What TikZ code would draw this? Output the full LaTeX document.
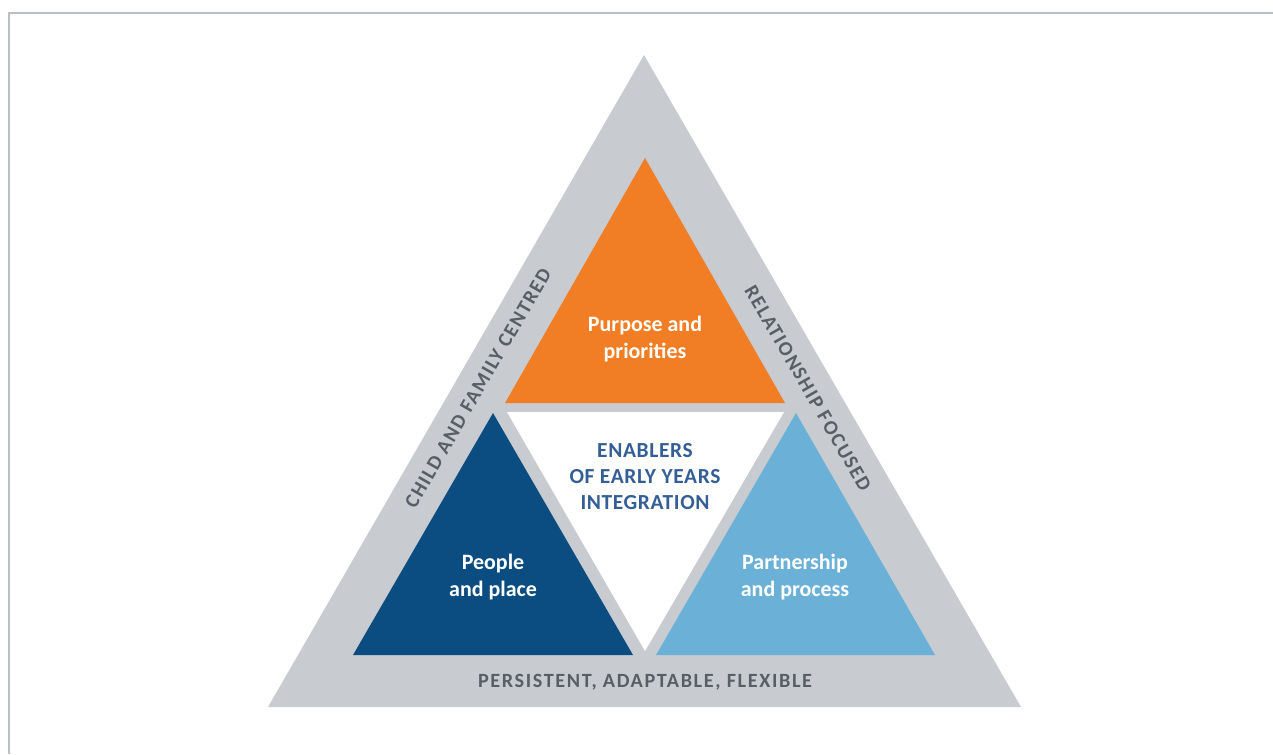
\documentclass[tikz,border=0pt]{standalone}
\usepackage{fontspec}
\setmainfont{Carlito}
\newfontfamily\sidefont[LetterSpace=8]{Carlito}
\newfontfamily\midfont[LetterSpace=3]{Carlito}
\begin{document}
\begin{tikzpicture}[x=0.02cm,y=-0.02cm,
  band/.style={fill=bandgray,draw=none},
  whitelbl/.style={text=white,font=\bfseries\fontsize{12.5}{15.5}\selectfont,align=center},
  sidelbl/.style={text=sidegray,font=\sidefont\bfseries\fontsize{11.5}{13}\selectfont},
  centerlbl/.style={text=centerblue,font=\midfont\bfseries\fontsize{12.2}{14.8}\selectfont,align=center}]
\definecolor{bandgray}{HTML}{C8CCD1}
\definecolor{framegray}{HTML}{B9BFC5}
\definecolor{orangec}{HTML}{F17D24}
\definecolor{darkblue}{HTML}{0B4C81}
\definecolor{lightblue}{HTML}{6BB1D7}
\definecolor{sidegray}{HTML}{595E66}
\definecolor{centerblue}{HTML}{345F96}
\useasboundingbox (0,0) rectangle (1273,754);
\fill[white] (0,0) rectangle (1273,754);
% frame
\draw[framegray,line width=1.2pt] (9,754) -- (9,13) -- (1273,13);
% outer band
\fill[band] (644,55) -- (1021,707) -- (268,707) -- cycle;
% white centre
\fill[white] (507,412) -- (784,412) -- (645,651) -- cycle;
% inner triangles
\fill[orangec] (645,158) -- (785,403) -- (505,403) -- cycle;
\fill[darkblue] (493,413) -- (633,655) -- (353,655) -- cycle;
\fill[lightblue] (796,413) -- (935,655) -- (656,655) -- cycle;
% labels
\node[whitelbl] (purpose) at (645,339) {Purpose and\\priorities};
\node[whitelbl] (people) at (493,577) {People\\and place};
\node[whitelbl] (partner) at (795,577) {Partnership\\and process};
\node[centerlbl] (enablers) at (645,477) {ENABLERS\\OF EARLY YEARS\\INTEGRATION};
\node[sidelbl] (bottom) at (645,682) {PERSISTENT, ADAPTABLE, FLEXIBLE};
\node[sidelbl,rotate=60] (left) at (478,388) {CHILD AND FAMILY CENTRED};
\node[sidelbl,rotate=-60] (right) at (808,388) {RELATIONSHIP FOCUSED};
\end{tikzpicture}
\end{document}
